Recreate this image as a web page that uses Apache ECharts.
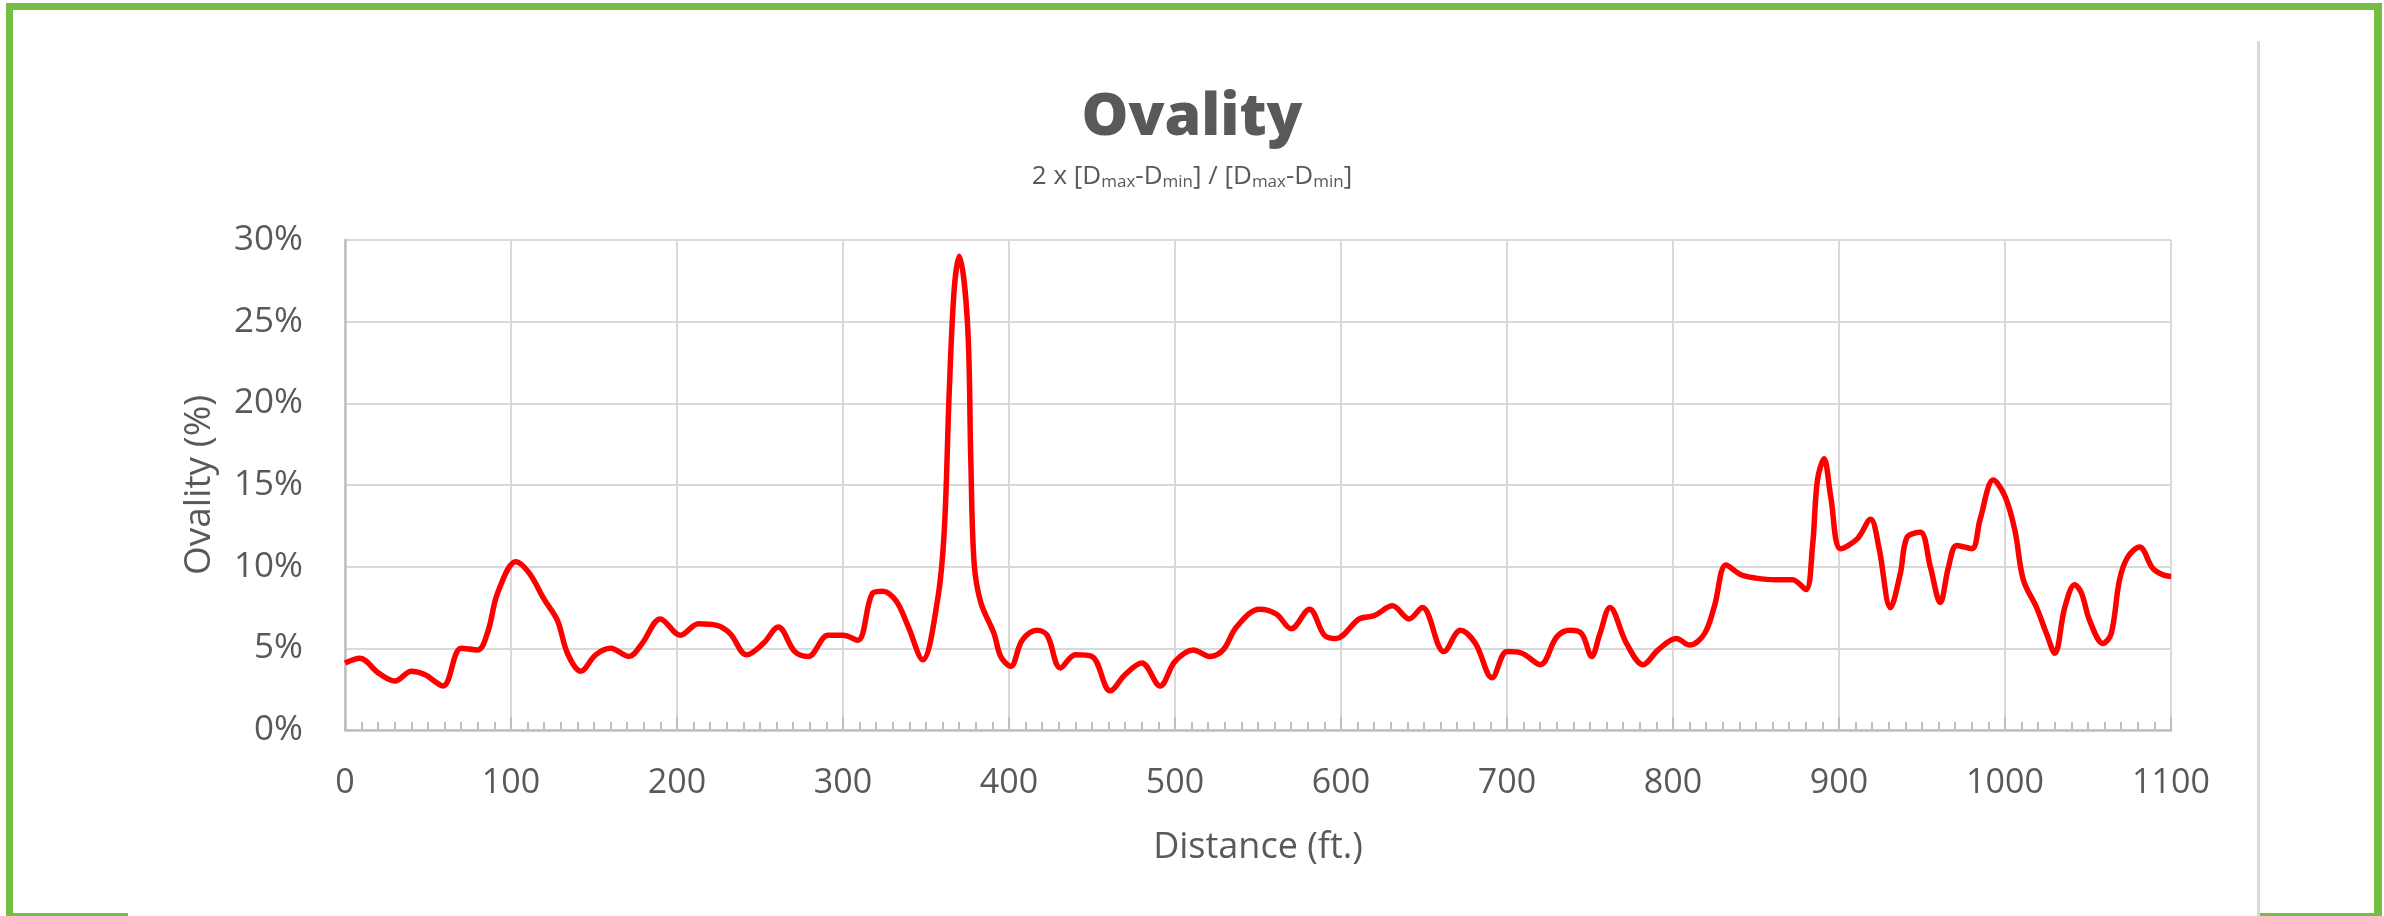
<!DOCTYPE html>
<html>
<head>
<meta charset="utf-8">
<title>Ovality</title>
<script src="https://cdn.jsdelivr.net/npm/echarts@6/dist/echarts.min.js"></script>
<style>
  html, body { margin: 0; padding: 0; background: #fff; }
  #chart { width: 2384px; height: 916px; }
</style>
</head>
<body>
<div id="chart"></div>
<script>
// distance along the pipe (ft.)
const distance = [
  0, 9, 20, 30, 40, 48, 59, 70, 80, 86, 92, 103, 111, 120, 128, 134, 142, 151, 160, 171,
  179, 190, 202, 213, 224, 232, 242, 252, 261, 271, 279, 291, 300, 309, 318, 324, 332, 339, 348, 357,
  361, 364, 367, 370, 375, 377, 379, 383, 391, 395, 401, 408, 417, 423, 431, 440, 450, 461, 470, 480,
  491, 500, 511, 521, 529, 537, 551, 561, 570, 581, 590, 597, 611, 620, 631, 641, 649, 662, 672, 681,
  691, 700, 709, 720, 730, 738, 745, 751, 756, 762, 772, 782, 791, 802, 810, 819, 825, 832, 841, 850,
  862, 872, 880, 884, 887, 891, 895, 901, 911, 919, 924, 931, 937, 941, 949, 955, 961, 966, 971, 980,
  985, 993, 1000, 1006, 1011, 1019, 1025, 1030, 1036, 1042, 1046, 1051, 1059, 1064, 1069, 1074, 1081, 1089, 1095, 1100
]

// ovality (%)
const ovality = [
  4.1, 4.4, 3.5, 3.0, 3.6, 3.4, 2.7, 5.0, 4.9, 6.0, 8.4, 10.3, 9.6, 8.0, 6.7, 4.7, 3.6, 4.6, 5.0, 4.5,
  5.3, 6.8, 5.8, 6.5, 6.4, 5.9, 4.6, 5.3, 6.3, 4.8, 4.5, 5.8, 5.8, 5.5, 8.4, 8.5, 7.9, 6.4, 4.3, 8.0,
  12.2, 20.7, 27.0, 29.0, 24.9, 16.5, 10.2, 7.8, 5.9, 4.5, 3.9, 5.5, 6.1, 5.8, 3.8, 4.6, 4.5, 2.4, 3.4, 4.1,
  2.7, 4.2, 4.9, 4.5, 4.9, 6.3, 7.4, 7.1, 6.2, 7.4, 5.8, 5.6, 6.8, 7.0, 7.6, 6.8, 7.5, 4.8, 6.1, 5.3,
  3.2, 4.8, 4.7, 4.0, 5.7, 6.1, 5.9, 4.5, 5.9, 7.5, 5.3, 4.0, 4.9, 5.6, 5.2, 5.9, 7.6, 10.1, 9.5, 9.3,
  9.2, 9.2, 8.6, 11.2, 15.3, 16.6, 14.3, 11.1, 11.7, 12.9, 11.2, 7.5, 9.6, 11.8, 12.1, 10.0, 7.8, 10.0, 11.3, 11.1,
  12.9, 15.3, 14.3, 12.2, 9.2, 7.5, 5.9, 4.7, 7.5, 8.9, 8.4, 6.7, 5.3, 5.9, 9.2, 10.6, 11.2, 9.9, 9.5, 9.4
]

const xTicks = { min: 0, max: 1100, step: 100 }
const yTicks = { min: 0, max: 30, step: 5 }

const green = '#75bd43'
const textColor = '#595959'
const font = 'Open Sans'

let lineData = []
distance.forEach((d, i) => {
  lineData.push([d, ovality[i]])
})

const myChart = echarts.init(document.getElementById('chart'))

let option = {
  animation: false,
  backgroundColor: '#fff',
  title: {
    text: 'Ovality',
    left: 'center',
    top: 84,
    itemGap: 14,
    textStyle: {
      fontFamily: font,
      fontSize: 59,
      fontWeight: 800,
      color: textColor
    },
    subtext: '{m|2 x [D}{s|max}{m|-D}{s|min}{m|] / [D}{s|max}{m|-D}{s|min}{m|]}',
    subtextStyle: {
      rich: {
        m: { fontFamily: font, fontSize: 26, color: textColor },
        s: { fontFamily: font, fontSize: 17, color: textColor, padding: [12, 0, 0, 0] }
      }
    }
  },
  grid: {
    left: 345,
    right: 213,
    top: 240,
    bottom: 186
  },
  xAxis: {
    type: 'value',
    min: xTicks.min,
    max: xTicks.max,
    interval: xTicks.step,
    name: 'Distance (ft.)',
    nameLocation: 'middle',
    nameGap: 100,
    nameTextStyle: { fontFamily: font, fontSize: 36, color: textColor },
    axisLine: { show: true, lineStyle: { color: '#bfbfbf', width: 2.5 } },
    axisTick: { show: true, inside: true, length: 13, lineStyle: { color: '#bfbfbf', width: 2 } },
    minorTick: { show: true, splitNumber: 10, length: 8, lineStyle: { color: '#bfbfbf', width: 2 } },
    axisLabel: {
      fontFamily: font,
      fontSize: 34,
      color: textColor,
      margin: 36,
      formatter: (val) => String(val)
    },
    splitLine: { show: true, lineStyle: { color: '#d9d9d9', width: 2 } }
  },
  yAxis: {
    type: 'value',
    min: yTicks.min,
    max: yTicks.max,
    interval: yTicks.step,
    name: 'Ovality (%)',
    nameLocation: 'middle',
    nameGap: 127,
    nameTextStyle: { fontFamily: font, fontSize: 37, color: textColor },
    axisLine: { show: true, lineStyle: { color: '#bfbfbf', width: 2.5 } },
    axisTick: { show: false },
    axisLabel: {
      fontFamily: font,
      fontSize: 35,
      color: textColor,
      margin: 42,
      formatter: '{value}%'
    },
    splitLine: { show: true, lineStyle: { color: '#d9d9d9', width: 2 } }
  },
  series: [
    {
      type: 'line',
      data: lineData,
      smooth: 0.35,
      showSymbol: false,
      lineStyle: { color: '#ff0000', width: 5.5 },
      z: 3
    }
  ],
  // green frame of the slide + grey chart-area edge on the right
  graphic: [
    { type: 'rect', shape: { x: 6, y: 3, width: 2376, height: 7 }, style: { fill: green } },
    { type: 'rect', shape: { x: 6, y: 3, width: 7, height: 913 }, style: { fill: green } },
    { type: 'rect', shape: { x: 2374, y: 3, width: 8, height: 913 }, style: { fill: green } },
    { type: 'rect', shape: { x: 6, y: 913, width: 122, height: 3 }, style: { fill: green } },
    { type: 'rect', shape: { x: 2260, y: 913, width: 122, height: 3 }, style: { fill: green } },
    { type: 'rect', shape: { x: 2257, y: 41, width: 3, height: 875 }, style: { fill: '#d9d9d9' } }
  ]
}

myChart.setOption(option)
window.addEventListener('resize', () => {
  myChart.resize()
})
</script>
</body>
</html>
